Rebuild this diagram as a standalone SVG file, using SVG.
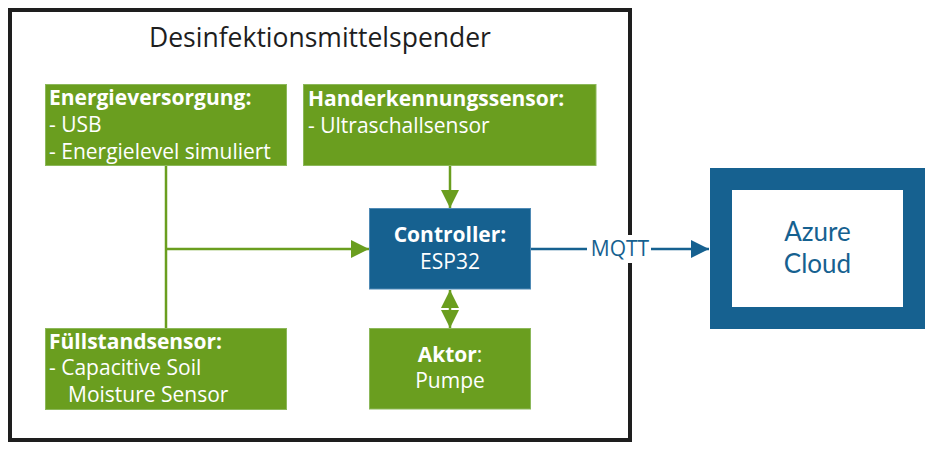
<svg xmlns="http://www.w3.org/2000/svg" width="934" height="453" viewBox="0 0 934 453">
<defs>
<style>
text{font-family:"Open Sans","Noto Sans","Liberation Sans",sans-serif;}
.g{fill:#6a9e1f;stroke:#8cb85a;stroke-width:1;}
.b{fill:#166190;stroke:#4f8ab5;stroke-width:1;}
.t{fill:#ffffff;font-size:21px;}
.bd{font-weight:bold;}
.gl{stroke:#6a9e1f;stroke-width:2.5;fill:none;}
.az{font-family:Lato,"Open Sans",sans-serif;font-size:26px;fill:#166190;}
</style>
<marker id="ag" viewBox="0 0 18 18" refX="18" refY="9" markerWidth="18" markerHeight="18" markerUnits="userSpaceOnUse" orient="auto-start-reverse">
<path d="M0,0 L18,9 L0,18 Z" fill="#6a9e1f"/>
</marker>
<marker id="ab" viewBox="0 0 18 18" refX="18" refY="9" markerWidth="18" markerHeight="18" markerUnits="userSpaceOnUse" orient="auto">
<path d="M0,0 L18,9 L0,18 Z" fill="#166190"/>
</marker>
</defs>
<rect width="934" height="453" fill="#ffffff"/>
<g id="container">
<rect x="10" y="10" width="620" height="430" fill="none" stroke="#1e1e1e" stroke-width="4"/>
<text x="320" y="47" text-anchor="middle" font-size="26.5" fill="#1e1e1e">Desinfektionsmittelspender</text>
</g>
<g id="connectors">
<line class="gl" x1="166" y1="165" x2="166" y2="328"/>
<line class="gl" x1="166" y1="249" x2="369" y2="249" marker-end="url(#ag)"/>
<line class="gl" x1="450" y1="165" x2="450" y2="208" marker-end="url(#ag)"/>
<line class="gl" x1="450" y1="290" x2="450" y2="328" marker-start="url(#ag)" marker-end="url(#ag)"/>
<line x1="531" y1="249" x2="709" y2="249" stroke="#166190" stroke-width="2.5" marker-end="url(#ab)"/>
<rect x="587" y="235" width="64" height="28" fill="#ffffff"/>
<text x="620" y="256" text-anchor="middle" font-size="21" fill="#166190">MQTT</text>
</g>
<g id="energie">
<rect class="g" x="45.5" y="84.5" width="241" height="81"/>
<text class="t" x="49" y="105"><tspan class="bd">Energieversorgung:</tspan><tspan x="49" y="132">- USB</tspan><tspan x="49" y="159">- Energielevel simuliert</tspan></text>
</g>
<g id="hand">
<rect class="g" x="303.5" y="84.5" width="292.5" height="81"/>
<text class="t" x="308" y="106"><tspan class="bd">Handerkennungssensor:</tspan><tspan x="308" y="133">- Ultraschallsensor</tspan></text>
</g>
<g id="controller">
<rect class="b" x="369.5" y="208.5" width="161" height="80.5"/>
<text class="t" x="450" y="242" text-anchor="middle"><tspan class="bd">Controller:</tspan><tspan x="450" y="269">ESP32</tspan></text>
</g>
<g id="fuell">
<rect class="g" x="45.5" y="328.5" width="241" height="81"/>
<text class="t" x="49" y="349"><tspan class="bd">Füllstandsensor:</tspan><tspan x="49" y="375">- Capacitive Soil</tspan><tspan x="68" y="402">Moisture Sensor</tspan></text>
</g>
<g id="aktor">
<rect class="g" x="369.5" y="328.5" width="161" height="80.5"/>
<text class="t" x="450" y="362" text-anchor="middle"><tspan class="bd">Aktor</tspan>:<tspan x="450" y="388">Pumpe</tspan></text>
</g>
<g id="azure">
<rect x="721" y="179" width="193" height="139" fill="#ffffff" stroke="#166190" stroke-width="22"/>
<text class="az" x="817.5" y="241" text-anchor="middle">Azure</text>
<text class="az" x="817.5" y="273" text-anchor="middle">Cloud</text>
</g>
</svg>
